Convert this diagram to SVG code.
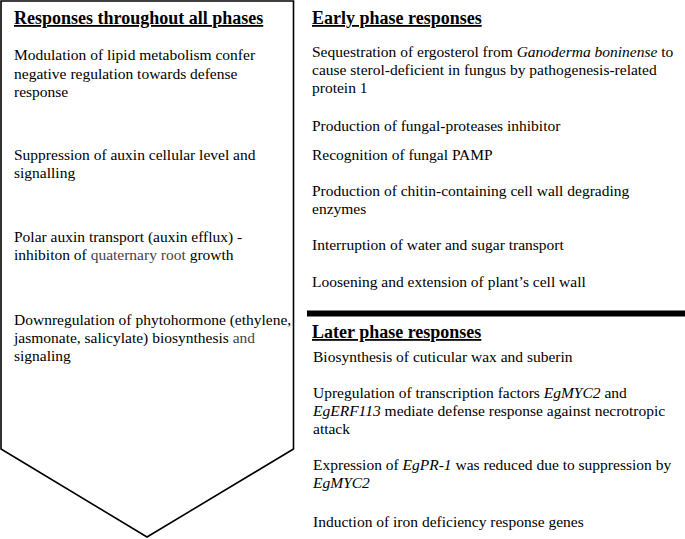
<svg xmlns="http://www.w3.org/2000/svg" width="685" height="539" viewBox="0 0 685 539">
<style>
text{font-family:"Liberation Serif","Times New Roman",serif;fill:#000}
.h{font-size:18px;font-weight:bold;text-decoration:underline}
.b{font-size:15.5px}
.g{fill:#444}
</style>
<rect width="685" height="539" fill="#fff"/>
<g id="all-phases">
<polygon points="1,1 293.5,1 293.5,449 147,537 1,449" fill="#fff" stroke="#000" stroke-width="1.6"/>
<text class="h" x="14" y="24">Responses throughout all phases</text>
<text class="b" x="14" y="60">Modulation of lipid metabolism confer</text>
<text class="b" x="14" y="79">negative regulation towards defense</text>
<text class="b" x="14" y="97">response</text>
<text class="b" x="14" y="160">Suppression of auxin cellular level and</text>
<text class="b" x="14" y="178">signalling</text>
<text class="b" x="14" y="242">Polar auxin transport (auxin efflux) -</text>
<text class="b" x="14" y="260">inhibiton of <tspan class="g">quaternary root</tspan> growth</text>
<text class="b" x="14" y="325">Downregulation of phytohormone (ethylene,</text>
<text class="b" x="14" y="343">jasmonate, salicylate) biosynthesis <tspan class="g">and</tspan></text>
<text class="b" x="14" y="361">signaling</text>
</g>
<g id="early-phase">
<text class="h" x="312" y="24">Early phase responses</text>
<text class="b" x="312" y="57">Sequestration of ergosterol from <tspan font-style="italic">Ganoderma boninense</tspan> to</text>
<text class="b" x="312" y="75">cause sterol-deficient in fungus by pathogenesis-related</text>
<text class="b" x="312" y="93">protein 1</text>
<text class="b" x="312" y="131">Production of fungal-proteases inhibitor</text>
<text class="b" x="312" y="160">Recognition of fungal PAMP</text>
<text class="b" x="312" y="196">Production of chitin-containing cell wall degrading</text>
<text class="b" x="312" y="214">enzymes</text>
<text class="b" x="312" y="250">Interruption of water and sugar transport</text>
<text class="b" x="312" y="287">Loosening and extension of plant’s cell wall</text>
</g>
<g id="connectors">
<line x1="307" y1="313.5" x2="685" y2="313.5" stroke="#000" stroke-width="6"/>
</g>
<g id="later-phase">
<text class="h" x="312" y="338">Later phase responses</text>
<text class="b" x="313" y="362">Biosynthesis of cuticular wax and suberin</text>
<text class="b" x="313" y="398">Upregulation of transcription factors <tspan font-style="italic">EgMYC2</tspan> and</text>
<text class="b" x="313" y="416"><tspan font-style="italic">EgERF113</tspan> mediate defense response against necrotropic</text>
<text class="b" x="313" y="434">attack</text>
<text class="b" x="313" y="470">Expression of <tspan font-style="italic">EgPR-1</tspan> was reduced due to suppression by</text>
<text class="b" x="313" y="488"><tspan font-style="italic">EgMYC2</tspan></text>
<text class="b" x="313" y="527">Induction of iron deficiency response genes</text>
</g>
</svg>
